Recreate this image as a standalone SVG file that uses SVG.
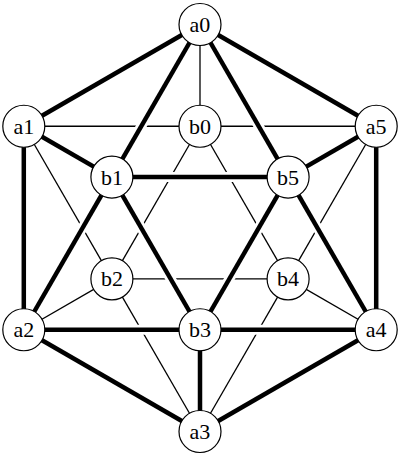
<svg xmlns="http://www.w3.org/2000/svg" width="400" height="454" viewBox="0 0 400 454">
<style>
.thin{stroke:#000;stroke-width:1.3;fill:none}
.halo{stroke:#fff;stroke-width:10;fill:none}
.thick{stroke:#000;stroke-width:4.5;fill:none}
.node circle{fill:#fff;stroke:#000;stroke-width:1.2}
.node text{font-family:"Liberation Serif","DejaVu Serif",serif;font-size:22px;text-anchor:middle;fill:#000}
</style>
<defs>
<g id="thickEdges">
<line x1="200" y1="24.5" x2="23.8" y2="126.25"/>
<line x1="200" y1="24.5" x2="376.2" y2="126.25"/>
<line x1="200" y1="24.5" x2="111.9" y2="177.1"/>
<line x1="200" y1="24.5" x2="288.1" y2="177.1"/>
<line x1="23.8" y1="126.25" x2="23.8" y2="329.75"/>
<line x1="376.2" y1="126.25" x2="376.2" y2="329.75"/>
<line x1="23.8" y1="126.25" x2="111.9" y2="177.1"/>
<line x1="376.2" y1="126.25" x2="288.1" y2="177.1"/>
<line x1="111.9" y1="177.1" x2="288.1" y2="177.1"/>
<line x1="111.9" y1="177.1" x2="23.8" y2="329.75"/>
<line x1="111.9" y1="177.1" x2="200" y2="329.75"/>
<line x1="288.1" y1="177.1" x2="200" y2="329.75"/>
<line x1="288.1" y1="177.1" x2="376.2" y2="329.75"/>
<line x1="23.8" y1="329.75" x2="200" y2="329.75"/>
<line x1="200" y1="329.75" x2="376.2" y2="329.75"/>
<line x1="23.8" y1="329.75" x2="200" y2="431.5"/>
<line x1="376.2" y1="329.75" x2="200" y2="431.5"/>
<line x1="200" y1="329.75" x2="200" y2="431.5"/>
</g>
</defs>
<g id="connectors">
<g class="thin">
<line x1="200" y1="24.5" x2="200" y2="126.25"/>
<line x1="23.8" y1="126.25" x2="200" y2="126.25"/>
<line x1="200" y1="126.25" x2="376.2" y2="126.25"/>
<line x1="200" y1="126.25" x2="111.9" y2="278.9"/>
<line x1="200" y1="126.25" x2="288.1" y2="278.9"/>
<line x1="23.8" y1="126.25" x2="111.9" y2="278.9"/>
<line x1="376.2" y1="126.25" x2="288.1" y2="278.9"/>
<line x1="111.9" y1="278.9" x2="288.1" y2="278.9"/>
<line x1="111.9" y1="278.9" x2="23.8" y2="329.75"/>
<line x1="288.1" y1="278.9" x2="376.2" y2="329.75"/>
<line x1="111.9" y1="278.9" x2="200" y2="431.5"/>
<line x1="288.1" y1="278.9" x2="200" y2="431.5"/>
</g>
<use href="#thickEdges" class="halo"/>
<use href="#thickEdges" class="thick"/>
</g>
<g id="a0" class="node"><circle cx="200" cy="24.5" r="21"/><text x="200" y="32">a0</text></g>
<g id="a1" class="node"><circle cx="23.8" cy="126.25" r="21"/><text x="23.8" y="133.75">a1</text></g>
<g id="b0" class="node"><circle cx="200" cy="126.25" r="21"/><text x="200" y="133.75">b0</text></g>
<g id="a5" class="node"><circle cx="376.2" cy="126.25" r="21"/><text x="376.2" y="133.75">a5</text></g>
<g id="b1" class="node"><circle cx="111.9" cy="177.1" r="21"/><text x="111.9" y="184.6">b1</text></g>
<g id="b5" class="node"><circle cx="288.1" cy="177.1" r="21"/><text x="288.1" y="184.6">b5</text></g>
<g id="b2" class="node"><circle cx="111.9" cy="278.9" r="21"/><text x="111.9" y="286.4">b2</text></g>
<g id="b4" class="node"><circle cx="288.1" cy="278.9" r="21"/><text x="288.1" y="286.4">b4</text></g>
<g id="a2" class="node"><circle cx="23.8" cy="329.75" r="21"/><text x="23.8" y="337.25">a2</text></g>
<g id="b3" class="node"><circle cx="200" cy="329.75" r="21"/><text x="200" y="337.25">b3</text></g>
<g id="a4" class="node"><circle cx="376.2" cy="329.75" r="21"/><text x="376.2" y="337.25">a4</text></g>
<g id="a3" class="node"><circle cx="200" cy="431.5" r="21"/><text x="200" y="439">a3</text></g>
</svg>
